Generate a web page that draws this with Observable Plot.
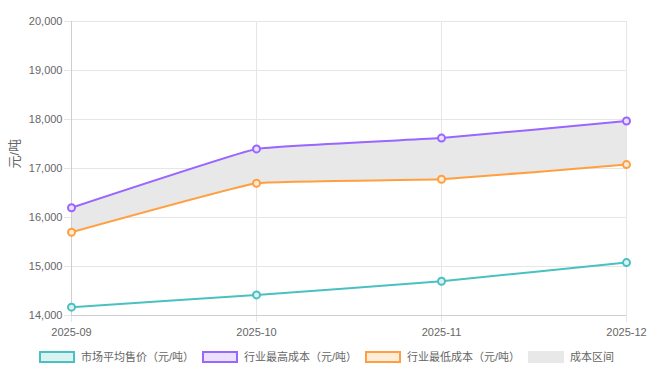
<!DOCTYPE html>
<html><head><meta charset="utf-8">
<script src="https://cdn.jsdelivr.net/npm/d3@7"></script>
<script src="https://cdn.jsdelivr.net/npm/@observablehq/plot@0.6"></script>
<style>
body{margin:0;background:#fff;font-family:"Liberation Sans","Noto Sans CJK SC",sans-serif;}
#wrap{position:relative;width:653px;height:378px;overflow:hidden;}
#chart svg{display:block;}
#legend{position:absolute;left:0;top:350px;width:653px;display:flex;justify-content:center;font-size:11px;color:#666;line-height:14px;}
.item{display:flex;align-items:center;margin:0 4px;white-space:nowrap;}
.box{width:32px;height:8px;border:2px solid;margin-right:6px;}
</style></head><body>
<div id="wrap"><div id="chart"></div><div id="legend"></div></div>
<script>
const months = ["2025-09", "2025-10", "2025-11", "2025-12"];
const avgPrice = [14170, 14420, 14700, 15080];
const maxCost = [16200, 17400, 17620, 17970];
const minCost = [15700, 16700, 16780, 17080];
const yTicks = [14000, 15000, 16000, 17000, 18000, 19000, 20000];
const seriesNames = ["市场平均售价（元/吨）", "行业最高成本（元/吨）", "行业最低成本（元/吨）"];
const seriesColors = ["#4bc0c0", "#9966ff", "#ff9f40"];
const seriesFills = ["#dbf2f2", "#ebe0ff", "#ffecd9"];
const bandName = "成本区间";
const bandColor = "#e8e8e8";
const yTitle = "元/吨";

const seriesValues = [avgPrice, maxCost, minCost];
const band = months.map((m, i) => ({month: m, lo: minCost[i], hi: maxCost[i]}));
const long = [];
seriesValues.forEach((vals, s) => vals.forEach((v, i) => long.push({
  month: months[i], value: v, series: seriesNames[s], color: seriesColors[s], fill: seriesFills[s]
})));

const curve = d3.curveCardinal.tension(0.75);
const chart = Plot.plot({
  width: 653,
  height: 340,
  marginLeft: 71,
  marginRight: 27,
  marginTop: 21,
  marginBottom: 25,
  style: {fontFamily: "Liberation Sans, Noto Sans CJK SC, sans-serif", background: "#fff"},
  x: {type: "point", domain: months, padding: 0, label: null},
  y: {domain: [14000, 20000], label: null},
  color: {type: "identity"},
  marks: [
    Plot.ruleY(yTicks, {stroke: "#e6e6e6", insetLeft: -7}),
    Plot.ruleX(months, {stroke: "#e6e6e6", insetBottom: -7}),
    Plot.areaY(band, {x: "month", y1: "lo", y2: "hi", fill: bandColor, curve}),
    Plot.ruleX([months[0]], {stroke: "#cfcfcf"}),
    Plot.ruleY([14000], {stroke: "#cfcfcf"}),
    Plot.line(long, {x: "month", y: "value", z: "series", stroke: "color", strokeWidth: 2, curve}),
    Plot.dot(long, {x: "month", y: "value", stroke: "color", fill: "fill", r: 3.5, strokeWidth: 2}),
    Plot.axisY({ticks: yTicks, tickFormat: d3.format(","), tickSize: 0, tickPadding: 9, fontSize: 11, color: "#666", label: null}),
    Plot.axisX({tickSize: 0, tickPadding: 13, fontSize: 11, color: "#666", label: null}),
    Plot.text([yTitle], {frameAnchor: "left", dx: -57, rotate: -90, fontSize: 13, fill: "#666"})
  ]
});
document.getElementById("chart").appendChild(chart);

const legend = document.getElementById("legend");
const items = seriesNames.map((n, i) => ({name: n, stroke: seriesColors[i], fill: seriesFills[i]}));
items.push({name: bandName, stroke: bandColor, fill: bandColor});
for (const it of items) {
  const d = document.createElement("div");
  d.className = "item";
  const b = document.createElement("span");
  b.className = "box";
  b.style.borderColor = it.stroke;
  b.style.background = it.fill;
  const t = document.createElement("span");
  t.textContent = it.name;
  d.appendChild(b); d.appendChild(t);
  legend.appendChild(d);
}
</script>
</body></html>
